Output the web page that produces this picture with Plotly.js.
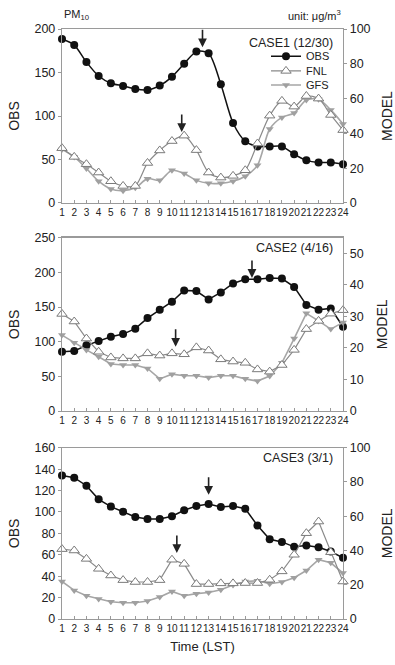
<!DOCTYPE html>
<html>
<head>
<meta charset="utf-8">
<script src="https://cdn.plot.ly/plotly-3.0.1.min.js"></script>
<style>html,body{margin:0;padding:0;background:#fff;}#chart{width:395px;height:665px;}</style>
</head>
<body>
<div id="chart"></div>
<script>
// ---------- data ----------
const hours = [1,2,3,4,5,6,7,8,9,10,11,12,13,14,15,16,17,18,19,20,21,22,23,24];
const tickLabels = hours.map(String);

// CASE1 (12/30)
const case1OBS = [188.5,181.5,162,146,137.7,134.6,131,130,135,145,160,174,172,136.5,92,71,65,65,65,56,49,46.5,46.5,44.6];
const case1FNL = [31.5,26.5,22.3,17.5,12.5,9.8,9.8,23,30.2,35.6,38.7,30.4,17.5,14.6,15.6,18.8,34.2,50.2,58.7,55.4,61.5,60,50.6,41.9];
const case1GFS = [30.8,26.5,19.8,12.5,8,7.1,8.7,14,13,18.8,17,13,11.3,11.3,12.5,15.4,21.7,42.5,49.2,51.7,59.2,59.6,53.5,45.4];

// CASE2 (4/16)
const case2OBS = [85.6,86.5,94.7,101,107,111,118.8,134,146,157.7,174,173,161,171,184,190,190,192,191,179,153,146,148,121.6];
const case2FNL = [30.8,28.4,23,18.8,17,16.7,16.7,18.3,17.6,18.3,18,20.2,19.2,16.4,15.7,15.3,13.2,12.5,14.6,19.4,26,28.6,30.9,32];
const case2GFS = [24.1,21.7,19.4,17.2,14.9,14.6,14.6,13.5,10.2,11.7,11.2,11.2,10.6,11.2,11.2,10.2,9.5,11.1,15.3,23,31,28.6,26,28.1];

// CASE3 (3/1)
const case3OBS = [134,132,124.5,111.8,105,100.3,95.3,93.5,93.5,96,101.6,105.6,107.5,104.7,105.6,103,87.3,74.5,72,67.4,68.6,67,63,57.1];
const case3FNL = [40.8,40,35.1,29.3,25.4,22.7,21.6,21.6,22.7,34.6,32.2,20.4,20.4,20.8,20.8,21,21,22.9,27.8,37.5,50.1,56.9,39,21.9];
const case3GFS = [21.9,16.7,13.6,11.7,10.1,9.5,9.5,10.5,12.8,16.1,13.6,14.8,15.5,17.1,19.8,21.9,22.3,20.6,21.6,24.1,28.3,34.6,32.8,26.8];

const caseLabels = ['CASE1 (12/30)','CASE2 (4/16)','CASE3 (3/1)'];
// arrows: [hour position, value, axis]
const arrowHours = [12.5, 10.8, 16.55, 10.3, 13.0, 10.4];
const arrowValues = [179, 40.8, 192, 20.4, 116, 38.5];
const arrowAxes = ['y','y2','y3','y4','y5','y6'];

// ---------- styling ----------
const FONT = 'Liberation Sans, Arial, sans-serif';
const obsStyle = {mode:'lines+markers', line:{color:'#111', width:1.5}, marker:{symbol:'circle', size:8, color:'#111'}};
const fnlStyle = {mode:'lines+markers', line:{color:'#8a8a8a', width:1.2}, marker:{symbol:'triangle-up', size:9, color:'#fff', line:{color:'#7a7a7a', width:1}}};
const gfsStyle = {mode:'lines+markers', line:{color:'#a6a6a6', width:1.6}, marker:{symbol:'triangle-down', size:7, color:'#a0a0a0'}};

function tr(style, y, xa, ya, name, legendId, shape){
  const t = Object.assign({}, style, {
    x: hours, y: y, xaxis: xa, yaxis: ya, name: name, showlegend: !!legendId,
    cliponaxis: false,
    line: Object.assign({}, style.line, {shape: shape, smoothing: 0.8})
  });
  if (legendId) t.legend = legendId;
  return t;
}

const traces = [
  tr(gfsStyle, case1GFS, 'x', 'y2', 'GFS', 'legend3', 'spline'),
  tr(fnlStyle, case1FNL, 'x', 'y2', 'FNL', 'legend2', 'spline'),
  tr(obsStyle, case1OBS, 'x', 'y', 'OBS', 'legend', 'spline'),
  tr(gfsStyle, case2GFS, 'x2', 'y4', 'GFS', null, 'linear'),
  tr(fnlStyle, case2FNL, 'x2', 'y4', 'FNL', null, 'linear'),
  tr(obsStyle, case2OBS, 'x2', 'y3', 'OBS', null, 'linear'),
  tr(gfsStyle, case3GFS, 'x3', 'y6', 'GFS', null, 'linear'),
  tr(fnlStyle, case3FNL, 'x3', 'y6', 'FNL', null, 'linear'),
  tr(obsStyle, case3OBS, 'x3', 'y5', 'OBS', null, 'linear')
];

const AXC = '#9a9a9a';
function xax(anchor, domainTitle){
  const a = {
    domain:[0,1], anchor: anchor, range:[1,24], tickvals: hours, ticktext: tickLabels, tickangle:0,
    showgrid:false, zeroline:false, showline:true, linecolor:AXC, linewidth:1.2, mirror:true,
    ticks:'inside', ticklen:3, tickcolor:AXC, tickfont:{size:10, color:'#222', family:FONT}
  };
  if (domainTitle) a.title = {text: domainTitle, font:{size:13, color:'#222', family:FONT}, standoff: 8};
  return a;
}
function yL(dom, anchor, range, dtick){
  return {domain: dom, anchor: anchor, range: range, dtick: dtick, showgrid:false, zeroline:false,
    showline:true, linecolor:AXC, linewidth:1.2, ticks:'outside', ticklen:3, tickcolor:AXC,
    tickfont:{size:12.5, color:'#222', family:FONT},
    title:{text:'OBS', font:{size:14, color:'#222', family:FONT}, standoff: 11}};
}
function yR(over, anchor, range, dtick){
  return {overlaying: over, side:'right', anchor: anchor, range: range, dtick: dtick, showgrid:false, zeroline:false,
    showline:true, linecolor:AXC, linewidth:1.2, ticks:'outside', ticklen:3, tickcolor:AXC,
    tickfont:{size:12.5, color:'#222', family:FONT},
    title:{text:'MODEL', font:{size:14, color:'#222', family:FONT}, standoff: 14}};
}

const D1 = [0.7051, 1], D2 = [0.3525, 0.6463], D3 = [0, 0.2903];

const annotations = [
  {xref:'paper', yref:'paper', x:0, y:1.008, xanchor:'left', yanchor:'bottom', showarrow:false,
   text:'PM<sub>10</sub>', font:{size:11, color:'#222', family:FONT}},
  {xref:'paper', yref:'paper', x:1, y:1.008, xanchor:'right', yanchor:'bottom', showarrow:false,
   text:'unit: μg/m<sup>3</sup>', font:{size:11, color:'#222', family:FONT}},
  {xref:'x domain', yref:'y domain', x:0.97, y:0.92, xanchor:'right', yanchor:'middle', showarrow:false,
   text: caseLabels[0], font:{size:12.5, color:'#222', family:FONT}},
  {xref:'x2 domain', yref:'y3 domain', x:0.97, y:0.94, xanchor:'right', yanchor:'middle', showarrow:false,
   text: caseLabels[1], font:{size:12.5, color:'#222', family:FONT}},
  {xref:'x3 domain', yref:'y5 domain', x:0.97, y:0.94, xanchor:'right', yanchor:'middle', showarrow:false,
   text: caseLabels[2], font:{size:12.5, color:'#222', family:FONT}}
];
const xrefs = ['x','x','x2','x2','x3','x3'];
for (let i = 0; i < arrowHours.length; i++) {
  annotations.push({xref: xrefs[i], yref: arrowAxes[i], x: arrowHours[i], y: arrowValues[i], text:'',
    showarrow:true, ax:0, ay:-19, arrowhead:2, arrowsize:1.1, arrowwidth:1.6, arrowcolor:'#222'});
}

function leg(y){
  return {x:0.726, y:y, xanchor:'left', yanchor:'middle', bgcolor:'rgba(0,0,0,0)',
    font:{size:11, color:'#222', family:FONT}, itemwidth:30};
}

const layout = {
  width:395, height:665, margin:{l:62, r:52, t:29, b:46},
  paper_bgcolor:'#fff', plot_bgcolor:'#fff',
  font:{family:FONT, color:'#222'},
  showlegend:true,
  legend: leg(0.954),
  legend2: leg(0.929),
  legend3: leg(0.905),
  xaxis: xax('y'),
  xaxis2: xax('y3'),
  xaxis3: xax('y5', 'Time (LST)'),
  yaxis: yL(D1, 'x', [0,200], 50),
  yaxis2: yR('y', 'x', [0,100], 20),
  yaxis3: yL(D2, 'x2', [0,250], 50),
  yaxis4: yR('y3', 'x2', [0,55], 10),
  yaxis5: yL(D3, 'x3', [0,160], 20),
  yaxis6: yR('y5', 'x3', [0,100], 20),
  annotations: annotations
};

Plotly.newPlot('chart', traces, layout, {displayModeBar:false, staticPlot:true});
</script>
</body>
</html>
